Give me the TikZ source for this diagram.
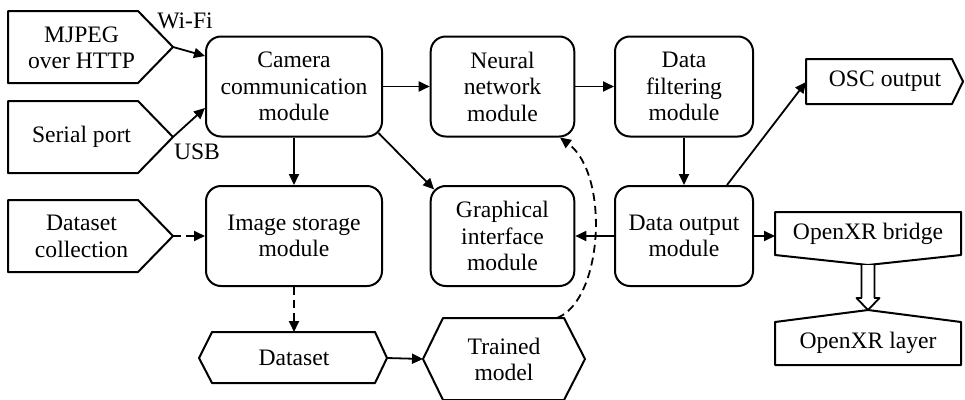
\documentclass[tikz,border=0pt]{standalone}
\usepackage{fontspec}
\setmainfont{Liberation Serif}
\usetikzlibrary{arrows.meta,calc}

\begin{document}
\begin{tikzpicture}[x=1pt,y=-1pt,
  line join=round,
  lbl/.style={font=\fontsize{23.6}{26.5}\selectfont, align=center, inner sep=0pt},
  modbox/.style={lbl, draw, line width=2pt, rounded corners=15pt, minimum height=100pt},
  outline/.style={draw, line width=2pt},
  conn/.style={line width=1.8pt, -{Triangle[length=11pt,width=10pt]}},
  dashconn/.style={conn, dash pattern=on 8pt off 5pt},
  hollow/.style={draw, line width=1.8pt, fill=white},
]
\path[use as bounding box, clip] (0,0) rectangle (965,399);

% processing modules
\node[modbox, minimum width=176pt]   (camera)  at (294,86.5)   {Camera\\communication\\module};
\node[modbox, minimum width=143.6pt] (neural)  at (502.5,86.5) {Neural\\network\\module};
\node[modbox, minimum width=138pt]   (filter)  at (684,86.5)   {Data\\filtering\\module};
\node[modbox, minimum width=176pt]   (storage) at (294,236)    {Image storage\\module};
\node[modbox, minimum width=143.6pt] (gui)     at (502.5,236)  {Graphical\\interface\\module};
\node[modbox, minimum width=138pt]   (output)  at (684,236)    {Data output\\module};

% inputs
\draw[outline] (8,11) -- (138,11) -- (173,47) -- (138,83) -- (8,83) -- cycle;
\node[lbl] (mjpeg) at (81.5,48) {MJPEG\\over HTTP};
\coordinate (mjpegtip) at (173,47);

\draw[outline] (8,101) -- (138,101) -- (173,137) -- (138,173) -- (8,173) -- cycle;
\node[lbl] (serial) at (81.5,137) {Serial port};
\coordinate (serialtip) at (173,137);

\draw[outline] (8,200) -- (138,200) -- (173,236) -- (138,272) -- (8,272) -- cycle;
\node[lbl] (collect) at (81.5,236.5) {Dataset\\collection};
\coordinate (colltip) at (173,236);

% outputs
\draw[outline] (806,59) -- (952,59) -- (963,81.5) -- (952,104) -- (806,104) -- cycle;
\node[lbl] (osc) at (885,81.5) {OSC output};
\coordinate (oscin) at (806,82);

\draw[outline] (775,212) -- (961,212) -- (961,255) -- (868,265) -- (775,255) -- cycle;
\node[lbl] (bridge) at (868,234) {OpenXR bridge};
\coordinate (bridgein) at (775,236);
\coordinate (bridgetip) at (868,265);

\draw[outline] (775,322) -- (868,310) -- (961,322) -- (961,365) -- (775,365) -- cycle;
\node[lbl] (layer) at (868,343) {OpenXR layer};
\coordinate (layertip) at (868,310);

% data stores
\draw[outline] (199,358) -- (212,332) -- (375,332) -- (387,358) -- (375,383) -- (212,383) -- cycle;
\node[lbl] (dataset) at (294,358) {Dataset};
\coordinate (dstop) at (294,332);
\coordinate (dsright) at (387,358);

\draw[outline] (423,359) -- (443,318) -- (564,318) -- (585,359) -- (564,400) -- (443,400) -- cycle;
\node[lbl] (model) at (504,359.5) {Trained\\model};
\coordinate (tmleft) at (423,359);
\coordinate (tmtop) at (557,318);

% link labels
\node[lbl] (wifi) at (185,21) {Wi-Fi};
\node[lbl] (usb) at (197,152) {USB};

% connectors
\draw[conn] (mjpegtip) -- ($(camera.west)+(0,-30.5)$);
\draw[conn] (serialtip) -- ($(camera.west)+(0,21.5)$);
\draw[dashconn] (colltip) -- (storage.west);
\draw[conn] (camera.east) -- (neural.west);
\draw[conn] (neural.east) -- (filter.west);
\draw[conn] (camera.south) -- (storage.north);
\draw[conn] ($(camera.south east)+(-4.4,-4.4)$) -- ($(gui.north west)+(4.4,4.4)$);
\draw[conn] (filter.south) -- (output.north);
\draw[conn] ($(output.north)+(43,0)$) -- (oscin);
\draw[conn] (output.west) -- (gui.east);
\draw[conn] (output.east) -- (bridgein);
\draw[dashconn] (storage.south) -- (dstop);
\draw[conn] (dsright) -- (tmleft);
\draw[dashconn] (tmtop) .. controls (603,300) and (610,175) .. ($(neural.south)+(57.5,0)$);

% hollow arrow from bridge to layer
\draw[hollow] ($(bridgetip)+(-6.5,0)$) -- ($(layertip)+(-6.5,-12)$) -- ($(layertip)+(-11.5,-12)$)
  -- (layertip) -- ($(layertip)+(11.5,-12)$) -- ($(layertip)+(6.5,-12)$) -- ($(bridgetip)+(6.5,0)$);
\end{tikzpicture}
\end{document}
